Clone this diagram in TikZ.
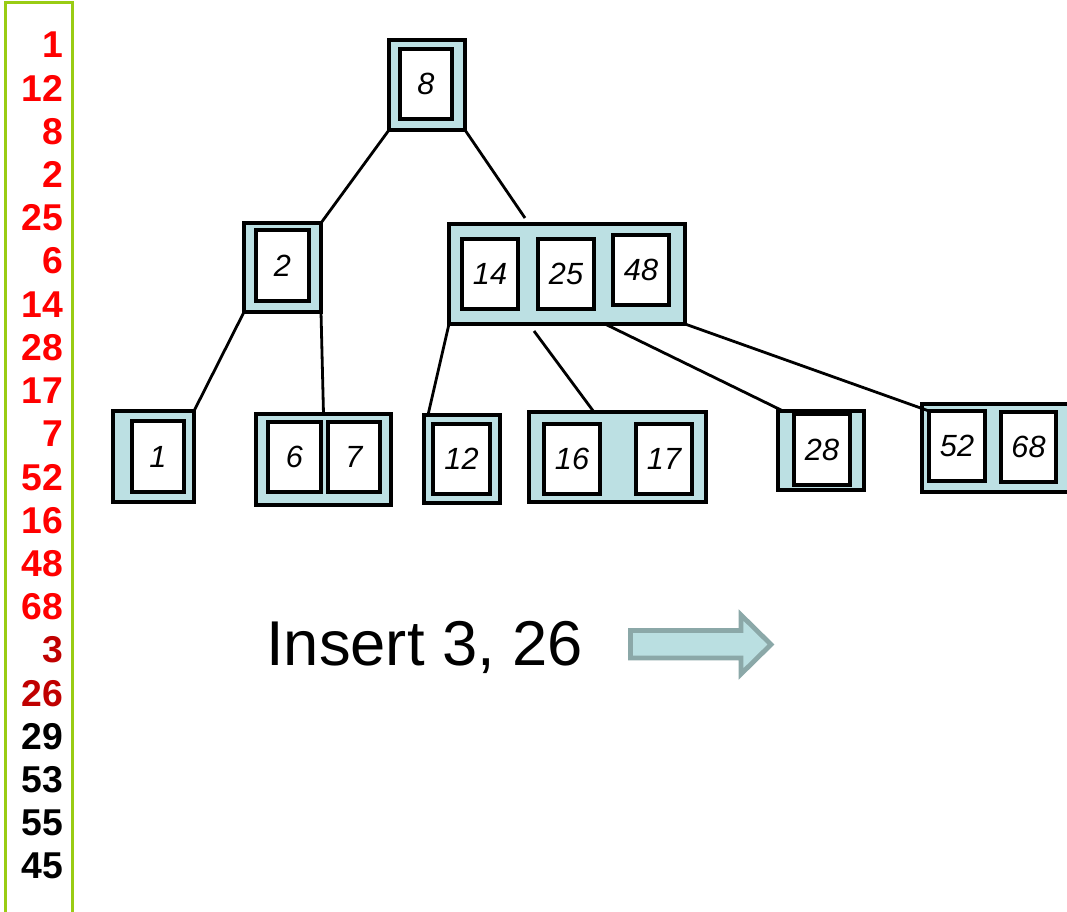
\documentclass[tikz,border=0pt]{standalone}
\usepackage{fontspec}
\setmainfont{Liberation Sans}
\usetikzlibrary{calc}
\definecolor{boxfill}{RGB}{188,224,227}
\definecolor{arrowfill}{RGB}{186,223,225}
\definecolor{arrowline}{RGB}{139,168,168}
\definecolor{colframe}{RGB}{153,204,20}
\definecolor{numred}{RGB}{255,0,0}
\definecolor{numdark}{RGB}{192,0,0}
\definecolor{numblack}{RGB}{0,0,0}
\newcommand\bnode[6]{\node[#6, minimum width={(#4-#2)*0.75pt}, minimum height={(#5-#3)*0.75pt}] (#1) at ({(#2+#4)/2},{(#3+#5)/2})}
\tikzset{
  outerbox/.style={draw=black, fill=boxfill, line width=2.6pt, inner sep=0pt, outer sep=0pt},
  innerbox/.style={draw=black, fill=white, line width=2.6pt, inner sep=0pt, outer sep=0pt,
    font=\itshape\fontsize{23}{27}\selectfont},
  edge/.style={draw=black, line width=2.1pt},
  colnum/.style={anchor=base east, inner sep=0pt, font=\bfseries\fontsize{28}{31}\selectfont},
  bigtext/.style={anchor=base west, inner sep=0pt, font=\fontsize{47.5}{52}\selectfont},
}
\begin{document}
\begin{tikzpicture}[x=0.75pt, y=-0.75pt]
\useasboundingbox (0,0) rectangle (1067,912);
\fill[white] (0,0) rectangle (1067,912);

% left column
\draw[colframe, line width=2.25pt] (5,2.5) rectangle (72.5,940);
\foreach \n/\c [count=\i from 0] in {1/numred,12/numred,8/numred,2/numred,25/numred,6/numred,14/numred,28/numred,17/numred,7/numred,52/numred,16/numred,48/numred,68/numred,3/numdark,26/numdark,29/numblack,53/numblack,55/numblack,45/numblack}
  \node[colnum, text=\c] (num\i) at (63.5,{58+43.2*\i}) {\n};

% root
\bnode{root}{389}{40}{465}{130}{outerbox} {};
\bnode{i8}{400}{49}{452}{119}{innerbox} {8};

% level 1
\bnode{ntwo}{244}{223}{321}{312}{outerbox} {};
\bnode{i2}{256}{230}{309}{301}{innerbox} {2};

\bnode{nR}{449}{224}{685}{324}{outerbox} {};
\bnode{i14}{462}{239}{518}{309}{innerbox} {14};
\bnode{i25}{538}{239}{594}{309}{innerbox} {25};
\bnode{i48}{613}{235}{669}{305}{innerbox} {48};

% leaves
\bnode{lone}{113}{411}{194}{502}{outerbox} {};
\bnode{i1}{132}{421}{184}{492}{innerbox} {1};

\bnode{lsix}{256}{414}{391}{505}{outerbox} {};
\bnode{i6}{268}{422}{321}{492}{innerbox} {6};
\bnode{i7}{328}{422}{380}{492}{innerbox} {7};

\bnode{ltwelve}{424}{415}{500}{503}{outerbox} {};
\bnode{i12}{433}{424}{490}{494}{innerbox} {12};

\bnode{lsixteen}{529}{412}{706}{502}{outerbox} {};
\bnode{i16}{544}{424}{600}{494}{innerbox} {16};
\bnode{i17}{636}{424}{692}{494}{innerbox} {17};

\bnode{ltwentyeight}{778}{411}{864}{490}{outerbox} {};
\bnode{i28}{794}{414}{850}{485}{innerbox} {28};

\bnode{lfiftytwo}{922}{404}{1076}{492}{outerbox} {};
\bnode{i52}{929}{411}{985}{481}{innerbox} {52};
\bnode{i68}{1001}{412}{1056}{482}{innerbox} {68};

% connectors
\coordinate (c1) at (525,218);
\coordinate (c2) at (534,331);
\draw[edge] (root.south west) -- (ntwo.north east);
\draw[edge] (root.south east) -- (c1);
\draw[edge] (ntwo.south west) -- (lone.north east);
\draw[edge] (ntwo.south east) -- (lsix.north);
\draw[edge] (nR.south west) -- ($(ltwelve.north west)+(4,0)$);
\draw[edge] (c2) -- ($(lsixteen.north west)!0.367!(lsixteen.north east)$);
\draw[edge] ($(nR.south west)!0.661!(nR.south east)$) -- ($(ltwentyeight.north west)+(5,0)$);
\draw[edge] (nR.south east) -- (i52.north west);

% insert text and arrow
\node[bigtext] (ins) at (266,665) {Insert 3, 26};
\draw[arrowline, fill=arrowfill, line width=3.6pt, line join=miter]
  (630.5,630.5) -- (741,630.5) -- (741,615) -- (771,644.5) -- (741,674) -- (741,658) -- (630.5,658) -- cycle;
\end{tikzpicture}
\end{document}
